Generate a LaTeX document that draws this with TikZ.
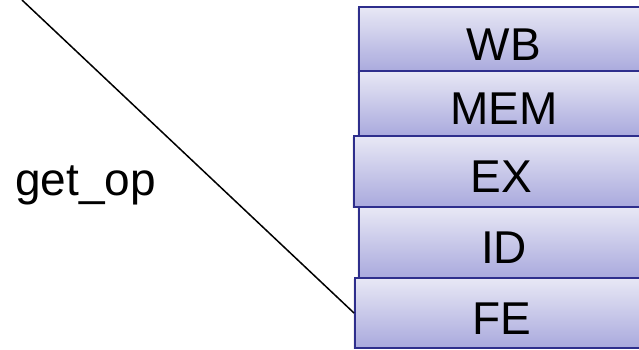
\documentclass[tikz,border=0pt]{standalone}
\usepackage{fontspec}
\setmainfont{Liberation Sans}
\usetikzlibrary{shadows}
\definecolor{boxtop}{HTML}{E8E8F5}
\definecolor{boxbot}{HTML}{A9A9DD}
\definecolor{boxline}{HTML}{2E2E8C}
\tikzset{
  stage/.style={draw=boxline, line width=2pt, top color=boxtop, bottom color=boxbot,
    anchor=north west, inner sep=0pt, minimum width=#1,
    text height=42pt, text depth=0pt,
    font=\fontsize{46}{50}\selectfont,
    drop shadow={shadow xshift=-2pt, shadow yshift=-1pt, opacity=0.12}},
  wire/.style={draw=black, line width=1.5pt},
  lbl/.style={inner sep=0pt, anchor=base west, font=\fontsize{46}{50}\selectfont}
}
\begin{document}
\begin{tikzpicture}[x=1pt, y=-1pt]
\useasboundingbox (0,0) rectangle (639,349);
\begin{scope}
\clip (0,0) rectangle (639,349);
\node[stage=290pt, minimum height=65pt] (wb) at (358,6) {WB};
\node[stage=290pt, minimum height=65pt] (mem) at (358,70) {MEM};
\node[stage=295pt, minimum height=71pt] (ex) at (353,135) {EX};
\node[stage=290pt, minimum height=71pt] (id) at (358,206) {ID};
\node[stage=294pt, minimum height=70pt] (fe) at (354,277) {FE};
\end{scope}
\coordinate (top) at (22,0);
\draw[wire] (top) -- (fe.west);
\node[lbl] (getop) at (15,195) {get\_op};
\end{tikzpicture}
\end{document}
